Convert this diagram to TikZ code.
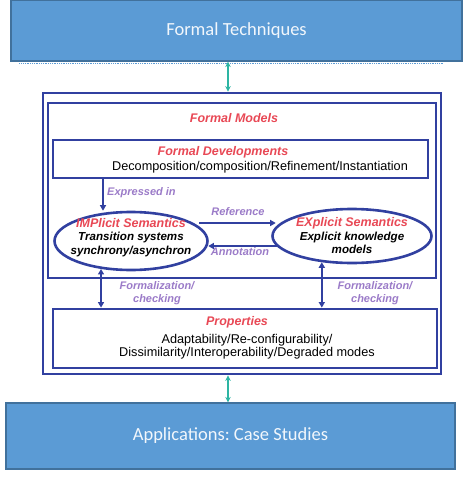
\documentclass[tikz,border=0pt]{standalone}
\usepackage{fontspec}
\setmainfont{Liberation Sans}
\newfontfamily\calib{Carlito}
\usetikzlibrary{arrows.meta,shapes.geometric}
\definecolor{boxblue}{HTML}{5B9BD5}
\definecolor{boxedge}{HTML}{41719C}
\definecolor{frameblue}{HTML}{3140A0}
\definecolor{titlered}{HTML}{E84855}
\definecolor{lblpurple}{HTML}{9B7BC8}
\definecolor{tealc}{HTML}{2DB5A3}
\frenchspacing
\begin{document}
\begin{tikzpicture}[x=1pt,y=-1pt,
  bluebox/.style={draw=boxedge, fill=boxblue, line width=1.2pt, text=white!92!boxblue,
    font=\calib\fontsize{18.5}{22}\selectfont, inner sep=0},
  frame/.style={draw=frameblue, line width=2.8pt, inner sep=0},
  ell/.style={ellipse, draw=frameblue, line width=2.6pt, inner sep=0},
  elltext/.style={inner sep=0, align=center, font=\bfseries\itshape\fontsize{11.6}{13.5}\selectfont},
  title/.style={text=titlered, font=\bfseries\itshape\fontsize{12.5}{14}\selectfont, inner sep=0},
  lbl/.style={text=lblpurple, font=\bfseries\itshape\fontsize{11}{12.5}\selectfont, inner sep=0, align=center},
  body/.style={font=\fontsize{12.7}{13.5}\selectfont, inner sep=0, align=center},
  arr/.style={draw=frameblue, line width=2pt, -{Triangle[length=5.5pt,width=6pt]}},
  darr/.style={draw=frameblue, line width=2pt, {Triangle[length=5.5pt,width=6pt]}-{Triangle[length=5.5pt,width=6pt]}},
  tealarr/.style={draw=tealc, line width=1.5pt, {Stealth[length=5.5pt,width=5.5pt]}-{Stealth[length=5.5pt,width=5.5pt]}}
]
\useasboundingbox (0,0) rectangle (466,479);

% blue boxes
\node[bluebox, minimum width=451pt, minimum height=61pt] (top) at (236.5,30.5) {Formal Techniques};
\node[bluebox, minimum width=449pt, minimum height=66pt] (bot) at (230.5,436) {Applications: Case Studies};
\draw[boxblue, line width=0.8pt, densely dotted] ([xshift=9pt,yshift=-1.5pt]top.south west) -- ([xshift=-20pt,yshift=-1.5pt]top.south east);

% frames
\node[frame, minimum width=398pt, minimum height=281pt] (outer) at (242,233.5) {};
\node[frame, minimum width=388pt, minimum height=175pt] (fm) at (242,190.5) {};
\node[frame, minimum width=375pt, minimum height=38pt] (fd) at (240.5,159) {};
\node[frame, minimum width=384pt, minimum height=59pt] (props) at (245,338.5) {};

% texts in frames
\node[title] (fmt) at (234,118) {Formal Models};
\node[title] (fdt) at (223,152) {Formal Developments};
\node[body] (fdb) at (260,167) {Decomposition/composition/Refinement/Instantiation};
\node[title] (pt) at (237,322) {Properties};
\node[body] (pb) at (247,346.5) {Adaptability/Re-configurability/\\Dissimilarity/Interoperability/Degraded modes};

% ellipses
\node[ell, minimum width=153pt, minimum height=58pt] (imp) at (131,241) {};
\node[elltext] (impt) at (131,237.5) {\textcolor{titlered}{\fontsize{12.5}{14}\selectfont IMPlicit Semantics}\\Transition systems\\synchrony/asynchron};
\node[ell, minimum width=159pt, minimum height=54pt] (exp) at (352,236) {};
\node[elltext] (expt) at (352,236) {\textcolor{titlered}{\fontsize{12.5}{17}\selectfont EXplicit Semantics}\\Explicit knowledge\\models};

% teal arrows
\coordinate (tx) at (228,0);
\draw[tealarr] (top.south -| tx) -- (tx |- outer.north);
\draw[tealarr] (outer.south -| tx) -- (tx |- bot.north);

% inner arrows
\coordinate (ex) at (103,0);
\draw[arr] (fd.south -| ex) -- (ex |- imp.north);
\node[lbl, anchor=west] (exl) at (107,193) {Expressed in};

\draw[arr] ([shift={(-9.5,-18)}]imp.east) -- ([shift={(4.5,-13)}]exp.west);
\node[lbl] (refl) at (238,212) {Reference};
\draw[arr] ([shift={(5.5,10)}]exp.west) -- ([shift={(-0.5,5)}]imp.east);
\node[lbl] (annl) at (240,252) {Annotation};

\draw[darr] (imp.223) -- (imp.223 |- props.north);
\draw[darr] (exp.221) -- (exp.221 |- props.north);
\node[lbl] (f1) at (157,293) {Formalization/\\checking};
\node[lbl] (f2) at (375,293) {Formalization/\\checking};
\end{tikzpicture}
\end{document}
